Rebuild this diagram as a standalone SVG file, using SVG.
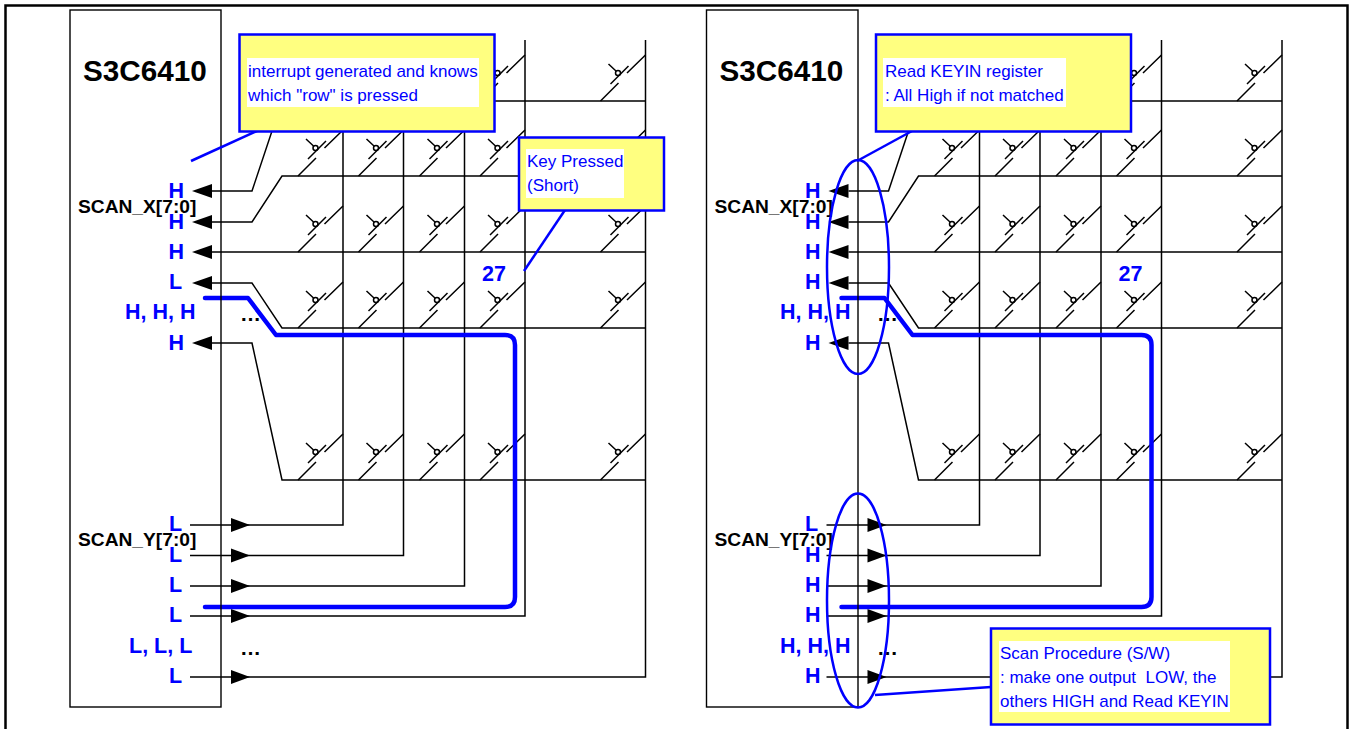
<svg xmlns="http://www.w3.org/2000/svg" width="1354" height="729" viewBox="0 0 1354 729">
<style>
text{font-family:"Liberation Sans",Arial,sans-serif;white-space:pre}
.w{fill:none;stroke:#000;stroke-width:1.5}
.chip{fill:none;stroke:#000;stroke-width:1.4}
.thick{fill:none;stroke:#0000ff;stroke-width:4.500;stroke-linecap:round;stroke-linejoin:round}
.lead{fill:none;stroke:#0000ff;stroke-width:2.5}
.ell{fill:none;stroke:#0000ff;stroke-width:2.5}
.box{fill:#ffff80;stroke:#0000ff;stroke-width:2.5}
.bg{fill:#fff;stroke:none}
.note{font-size:17px;fill:#0000ff}
.lv{font-size:21.500px;font-weight:bold;fill:#0000ff}
.bus{font-size:19.2px;font-weight:bold;fill:#000}
.title{font-size:29.700px;font-weight:bold;fill:#000}
.dots{font-size:21px;font-weight:bold;fill:#000}
</style>
<defs>
<g id="sw" class="w"><path d="M-45 0L-27-18M-35-17L-17-35M-18.500-28L0-46M-37-37L-29.500-30"/><circle cx="-27.500" cy="-28" r="2.500"/></g>
<path id="al" d="M192 0L212-7V7Z" fill="#000"/>
<path id="ar" d="M250 0L231-7V7Z" fill="#000"/>
<g id="matrix">
<g class="w">
<path d="M212 191H252L282 101H645.500M212 222H252L282 176H645.500M212 252H645.500M212 283H252L282 328H645.500M212 343H252L282 480H645.500"/>
<path d="M190 525H343V40M190 555.500H403.500V40M190 586H464.500V40M190 616H525V40M190 677H645.500V40"/>
</g>
<use href="#al" y="191"/><use href="#al" y="222"/><use href="#al" y="252"/><use href="#al" y="283"/><use href="#al" y="343"/>
<use href="#ar" y="525"/><use href="#ar" y="555.500"/><use href="#ar" y="586"/><use href="#ar" y="616"/><use href="#ar" y="677"/>
<use href="#sw" x="343" y="101"/><use href="#sw" x="403.500" y="101"/><use href="#sw" x="464.500" y="101"/><use href="#sw" x="525" y="101"/><use href="#sw" x="645.500" y="101"/>
<use href="#sw" x="343" y="176"/><use href="#sw" x="403.500" y="176"/><use href="#sw" x="464.500" y="176"/><use href="#sw" x="525" y="176"/><use href="#sw" x="645.500" y="176"/>
<use href="#sw" x="343" y="252"/><use href="#sw" x="403.500" y="252"/><use href="#sw" x="464.500" y="252"/><use href="#sw" x="525" y="252"/><use href="#sw" x="645.500" y="252"/>
<use href="#sw" x="343" y="328"/><use href="#sw" x="403.500" y="328"/><use href="#sw" x="464.500" y="328"/><use href="#sw" x="525" y="328"/><use href="#sw" x="645.500" y="328"/>
<use href="#sw" x="343" y="480"/><use href="#sw" x="403.500" y="480"/><use href="#sw" x="464.500" y="480"/><use href="#sw" x="525" y="480"/><use href="#sw" x="645.500" y="480"/>
<path class="thick" d="M205 298H248L276 335H505Q515 335 515 345V597Q515 607 505 607H205"/>
</g>
</defs>
<rect id="frame" x="5.500" y="5.500" width="1342" height="800" fill="none" stroke="#000" stroke-width="2.500"/>
<g id="connectors">
<use href="#matrix"/>
<use href="#matrix" x="636.500"/>
</g>
<g id="left-chip">
<rect class="chip" x="70" y="10" width="151" height="697"/>
<text class="title" x="83" y="81">S3C6410</text>
<text class="lv" x="168.500" y="198">H</text><text class="lv" x="168.500" y="229">H</text><text class="lv" x="168.500" y="259">H</text><text class="lv" x="169" y="289">L</text>
<text class="lv" x="125" y="319">H, H, H</text><text class="lv" x="168.500" y="350">H</text>
<text class="lv" x="169" y="531">L</text><text class="lv" x="169" y="562">L</text><text class="lv" x="169" y="592">L</text><text class="lv" x="169" y="622">L</text>
<text class="lv" x="129" y="653">L, L, L</text><text class="lv" x="169" y="683">L</text>
<text class="bus" x="78" y="213">SCAN_X[7:0]</text>
<text class="bus" x="78" y="546">SCAN_Y[7:0]</text>
<text class="dots" x="240" y="321">…</text><text class="dots" x="240" y="655">…</text>
<text class="lv" x="482" y="281">27</text>
</g>
<g id="left-note-interrupt">
<path class="lead" d="M259 130L191 161"/>
<rect class="box" x="239.500" y="34.500" width="255" height="97"/>
<rect class="bg" x="247" y="58" width="232" height="49"/>
<text class="note" x="248" y="77">interrupt generated and knows</text>
<text class="note" x="248" y="101">which "row" is pressed</text>
</g>
<g id="left-note-key">
<path class="lead" d="M565 210L524 271"/>
<rect class="box" x="519" y="137.500" width="145" height="73"/>
<rect class="bg" x="526" y="149" width="98" height="49"/>
<text class="note" x="527" y="167">Key Pressed</text>
<text class="note" x="527" y="191">(Short)</text>
</g>
<g id="right-chip">
<rect class="chip" x="706.500" y="10" width="151.500" height="697"/>
<text class="title" x="719.500" y="81">S3C6410</text>
<text class="lv" x="805" y="198">H</text><text class="lv" x="805" y="229">H</text><text class="lv" x="805" y="259">H</text><text class="lv" x="805" y="289">H</text>
<text class="lv" x="780" y="319">H, H, H</text><text class="lv" x="805" y="350">H</text>
<text class="lv" x="805" y="531">L</text><text class="lv" x="805" y="562">H</text><text class="lv" x="805" y="592">H</text><text class="lv" x="805" y="622">H</text>
<text class="lv" x="780" y="653">H, H, H</text><text class="lv" x="805" y="683">H</text>
<text class="bus" x="714.500" y="213">SCAN_X[7:0]</text>
<text class="bus" x="714.500" y="546">SCAN_Y[7:0]</text>
<text class="dots" x="877" y="321">…</text><text class="dots" x="877" y="655">…</text>
<text class="lv" x="1118.500" y="281">27</text>
<ellipse class="ell" cx="858" cy="267" rx="31" ry="107"/>
<ellipse class="ell" cx="858" cy="600.500" rx="31" ry="107"/>
</g>
<g id="right-note-read">
<path class="lead" d="M912 131L857 161"/>
<rect class="box" x="876" y="34.500" width="255" height="97"/>
<rect class="bg" x="883" y="58" width="183" height="49"/>
<text class="note" x="885" y="77">Read KEYIN register</text>
<text class="note" x="885" y="101">: All High if not matched</text>
</g>
<g id="right-note-scan">
<path class="lead" d="M991 687L875 695"/>
<rect class="box" x="991" y="628.500" width="279" height="96"/>
<rect class="bg" x="999" y="641" width="231" height="71"/>
<text class="note" x="1000" y="659">Scan Procedure (S/W)</text>
<text class="note" x="1000" y="683">: make one output  LOW, the</text>
<text class="note" x="1000" y="707">others HIGH and Read KEYIN</text>
</g>
</svg>
